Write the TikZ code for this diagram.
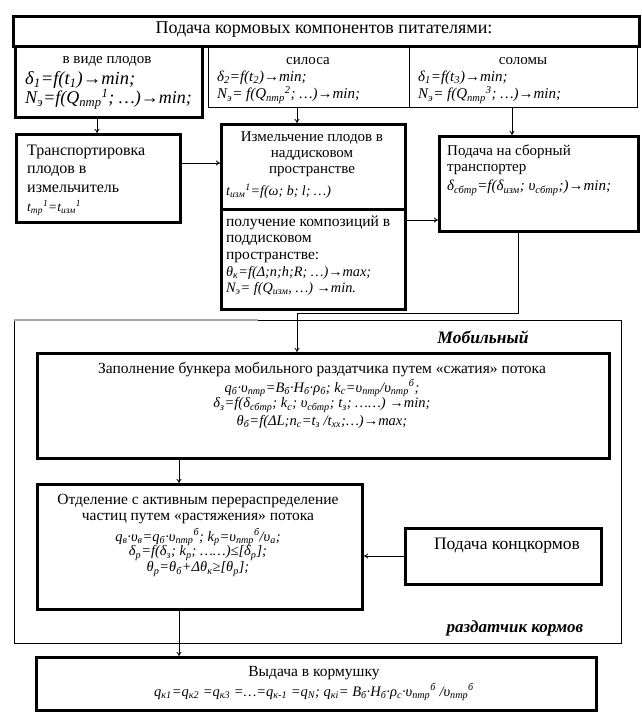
\documentclass[tikz,border=0pt]{standalone}
\usepackage{fontspec}
\setmainfont{Liberation Serif}
\usetikzlibrary{arrows.meta}
\newcommand{\lo}[1]{\textsubscript{#1}}
\newcommand{\hi}[1]{\textsuperscript{#1}}
\newcommand{\fsz}[1]{\fontsize{#1}{#1}\selectfont}
\begin{document}
\begin{tikzpicture}[x=1pt,y=-1pt,
  thickbox/.style={draw, line width=3pt, anchor=north west, inner sep=0pt},
  thinbox/.style={draw, line width=0.9pt, anchor=north west, inner sep=0pt},
  framebox/.style={draw, line width=0.9pt, anchor=north west, inner sep=0pt},
  tx/.style={inner sep=0pt},
  lt/.style={inner sep=0pt, anchor=west},
  up/.style={font=\fsz{15}},
  fm/.style={font=\fsz{14.5}\itshape},
  arr/.style={line width=0.8pt, -{To[length=4pt,width=5pt]}},
  ln/.style={line width=0.8pt}]
\useasboundingbox (0,0) rectangle (642,718);
% boxes
\node[thickbox, minimum width=626pt, minimum height=30pt] (T) at (12,15) {};
\node[thinbox, minimum width=201pt, minimum height=62pt] (B) at (208,45) {};
\node[thinbox, minimum width=228pt, minimum height=62pt] (C) at (409,45) {};
\node[thickbox, minimum width=187pt, minimum height=71pt] (A) at (14,45) {};
\node[thickbox, minimum width=164pt, minimum height=88pt] (D) at (15,133) {};
\node[thickbox, minimum width=184pt, minimum height=85pt] (E) at (220,123) {};
\node[thickbox, minimum width=184pt, minimum height=100pt] (F) at (220,208) {};
\node[thickbox, minimum width=199pt, minimum height=95pt] (G) at (438,135) {};
\node[framebox, minimum width=607pt, minimum height=323pt] (M) at (14,320) {};
\draw[gray!70, line width=1.6pt] (M.north west) -- ([xshift=244pt]M.north west);
\node[thickbox, minimum width=572pt, minimum height=105pt] (H) at (36,352) {};
\node[thickbox, minimum width=325pt, minimum height=125pt] (I) at (36,483) {};
\node[thickbox, minimum width=196pt, minimum height=56pt] (K) at (404,527) {};
\node[thickbox, minimum width=560pt, minimum height=53pt] (J) at (35,656) {};
% texts
\node[tx, font=\fsz{18}] (tT) at (324,30) {Подача кормовых компонентов питателями:};
\node[tx, font=\fsz{15}] (tA1) at (107,61) {в виде плодов};
\node[lt, font=\fsz{18.5}\itshape] (tA2) at (25,80) {δ\lo{1}=f(t\lo{1})→min;};
\node[lt, font=\fsz{18}\itshape] (tA3) at (25,99) {N\lo{э}=f(Q\lo{птр}\hi{1}; …)→min;};
\node[tx, font=\fsz{15}] (tB1) at (308,61) {силоса};
\node[lt, font=\fsz{15}\itshape] (tB2) at (217,78) {δ\lo{2}=f(t\lo{2})→min;};
\node[lt, font=\fsz{15}\itshape] (tB3) at (217,95) {N\lo{э}= f(Q\lo{птр}\hi{2}; …)→min;};
\node[tx, font=\fsz{15}] (tC1) at (523,61) {соломы};
\node[lt, font=\fsz{15}\itshape] (tC2) at (418,78) {δ\lo{1}=f(t\lo{3})→min;};
\node[lt, font=\fsz{15}\itshape] (tC3) at (418,95) {N\lo{э}= f(Q\lo{птр}\hi{3}; …)→min;};
\node[lt, font=\fsz{16}] (tD1) at (27,152) {Транспортировка};
\node[lt, font=\fsz{16}] (tD2) at (27,171) {плодов в};
\node[lt, font=\fsz{16}] (tD3) at (27,189) {измельчитель};
\node[lt, font=\fsz{13.5}\itshape] (tD4) at (27,208) {t\lo{тр}\hi{1}=t\lo{изм}\hi{1}};
\node[tx, up] (tE1) at (312,138) {Измельчение плодов в};
\node[tx, up] (tE2) at (312,155) {наддисковом};
\node[tx, up] (tE3) at (312,172) {пространстве};
\node[lt, font=\fsz{14}\itshape] (tE4) at (226,191) {t\lo{изм}\hi{1}=f(ω; b; l; …)};
\node[lt, font=\fsz{15.5}] (tF1) at (226,223) {получение композиций в};
\node[lt, font=\fsz{15.5}] (tF2) at (226,240) {поддисковом};
\node[lt, font=\fsz{15.5}] (tF3) at (226,257) {пространстве:};
\node[lt, font=\fsz{14.3}\itshape] (tF4) at (226,273) {θ\lo{к}=f(Δ;n;h;R; …)→max;};
\node[lt, font=\fsz{14.3}\itshape] (tF5) at (226,289) {N\lo{э}= f(Q\lo{изм}, …) →min.};
\node[lt, font=\fsz{15}] (tG1) at (447,152) {Подача на сборный};
\node[lt, font=\fsz{15}] (tG2) at (447,170) {транспортер};
\node[lt, font=\fsz{15}\itshape] (tG3) at (447,188) {δ\lo{сбтр}=f(δ\lo{изм}; υ\lo{сбтр};)→min;};
\node[tx, font=\fsz{17.5}\bfseries\itshape] (tM1) at (483,337) {Мобильный};
\node[tx, font=\fsz{17}\bfseries\itshape] (tM2) at (515,628) {раздатчик кормов};
\node[tx, font=\fsz{15.5}] (tH1) at (322,370) {Заполнение бункера мобильного раздатчика путем «сжатия» потока};
\node[tx, fm] (tH2) at (322,388) {q\lo{б}·υ\lo{птр}=B\lo{б}·H\lo{б}·ρ\lo{б}; k\lo{с}=υ\lo{птр}/υ\lo{птр}\hi{б};};
\node[tx, fm] (tH3) at (322,405) {δ\lo{з}=f(δ\lo{сбтр}; k\lo{с}; υ\lo{сбтр}; t\lo{з}; ……) →min;};
\node[tx, fm] (tH4) at (322,422) {θ\lo{б}=f(ΔL;n\lo{с}=t\lo{з} /t\lo{хх};…)→max;};
\node[tx, font=\fsz{15.5}] (tI1) at (198,501) {Отделение с активным перераспределение};
\node[tx, font=\fsz{15.5}] (tI2) at (198,519) {частиц путем «растяжения» потока};
\node[tx, fm] (tI3) at (198,537) {q\lo{в}·υ\lo{в}=q\lo{б}·υ\lo{птр}\hi{б}; k\lo{р}=υ\lo{птр}\hi{б}/υ\lo{а};};
\node[tx, fm] (tI4) at (198,553) {δ\lo{р}=f(δ\lo{з}; k\lo{р}; ……)≤[δ\lo{р}];};
\node[tx, fm] (tI5) at (198,569) {θ\lo{р}=θ\lo{б}+Δθ\lo{к}≥[θ\lo{р}];};
\node[tx, font=\fsz{17.5}] (tK) at (507,546) {Подача концкормов};
\node[tx, font=\fsz{15.5}] (tJ1) at (314,673) {Выдача в кормушку};
\node[tx, fm] (tJ2) at (314,692) {q\lo{к1}=q\lo{к2} =q\lo{к3} =…=q\lo{к-1} =q\lo{N}; q\lo{кi}= B\lo{б}·H\lo{б}·ρ\lo{с}·υ\lo{птр}\hi{б} /υ\lo{птр}\hi{б}};
% connector helpers
\coordinate (p1) at (97,0);
\coordinate (p2) at (297,0);
\coordinate (p3) at (512,0);
\coordinate (p4) at (0,163);
\coordinate (p5) at (0,220);
\coordinate (p6) at (518,0);
\coordinate (p7) at (0,313);
\coordinate (p9) at (179,0);
\coordinate (p10) at (0,556);
% connectors
\draw[arr] (A.south -| p1) -- (D.north -| p1);
\draw[arr] (B.south -| p2) -- (E.north -| p2);
\draw[arr] (C.south -| p3) -- (G.north -| p3);
\draw[arr] (D.east |- p4) -- (E.west |- p4);
\draw[arr] (F.east |- p5) -- (G.west |- p5);
\draw[arr] (G.south -| p6) -- (p6 |- p7) -- (p2 |- p7) -- (H.north -| p2);
\draw[arr] (H.south -| p9) -- (I.north -| p9);
\draw[arr] (K.west |- p10) -- (I.east |- p10);
\draw[arr] (I.south -| p9) -- (J.north -| p9);
\end{tikzpicture}
\end{document}
